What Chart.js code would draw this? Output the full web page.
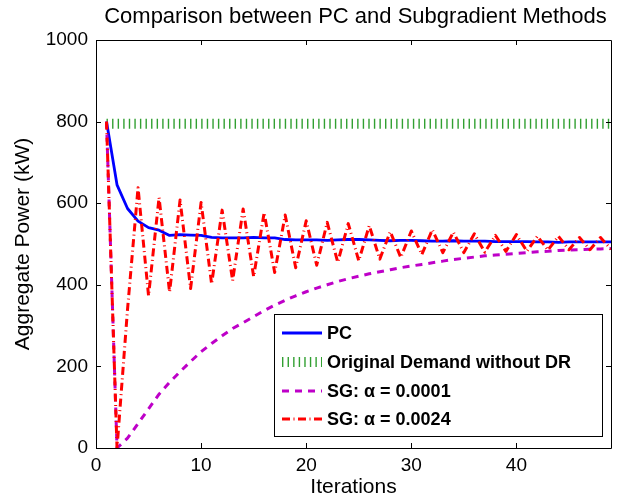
<!DOCTYPE html>
<html><head><meta charset="utf-8">
<script src="https://cdn.jsdelivr.net/npm/chart.js@4.4.0/dist/chart.umd.min.js"></script>
<style>html,body{margin:0;padding:0;background:#fff;}canvas{display:block;}</style>
</head><body>
<canvas id="c" width="621" height="500"></canvas>
<script>
const iterations = [1,2,3,4,5,6,7,8,9,10,11,12,13,14,15,16,17,18,19,20,21,22,23,24,25,26,27,28,29,30,31,32,33,34,35,36,37,38,39,40,41,42,43,44,45,46,47,48,49];
const pcPower = [800,645,587,556,540,534,521,523,522,521,516,515,515,515,516,515,515,511,510,510,510,509,510,511,511,510,509,508,509,509,508,507,507,508,507,507,507,506,506,506,506,505,505,504,505,505,505,505,505];
const originalDemand = [795,795,795,795,795,795,795,795,795,795,795,795,795,795,795,795,795,795,795,795,795,795,795,795,795,795,795,795,795,795,795,795,795,795,795,795,795,795,795,795,795,795,795,795,795,795,795,795,795];
const sgSlowPower = [800,0,24,60,96,132,161,187,212,236,256,275,293,307,322,337,350,362,373,383,392,400,408,415,421,427,432,437,442,446,450,454,458,462,465,468,471,473,475,477,479,481,482,484,485,486,487,488,489];
const sgFastPower = [800,0,340,638,373,614,382,608,391,602,402,583,410,586,420,577,430,571,442,557,448,553,455,550,459,545,463,530,467,532,474,535,479,529,479,525,480,521,482,523,482,519,485,519,486,516,486,516,487];
const xTicks = [0,10,20,30,40];
const yTicks = [0,200,400,600,800,1000];
const seriesNames = ['PC','Original Demand without DR','SG: \u03b1 = 0.0001','SG: \u03b1 = 0.0024'];

const FONT = "'Liberation Sans', Arial, Helvetica, sans-serif";
const toPts = arr => iterations.map((x, i) => ({x: x, y: arr[i]}));

const datasets = [
  {label: seriesNames[0], data: toPts(pcPower), borderColor: 'rgb(0,0,255)', borderWidth: 2.8, borderDash: [], order: 4},
  {label: seriesNames[1], data: toPts(originalDemand), borderColor: 'rgb(50,160,50)', borderWidth: 10, borderDash: [1.4, 4.17], borderCapStyle: 'butt', order: 3},
  {label: seriesNames[2], data: toPts(sgSlowPower), borderColor: 'rgb(190,0,200)', borderWidth: 3, borderDash: [7, 6], borderCapStyle: 'butt', order: 2},
  {label: seriesNames[3], data: toPts(sgFastPower), borderColor: 'rgb(255,0,0)', borderWidth: 3, borderDash: [8, 3.5, 1, 3.5], borderCapStyle: 'butt', order: 1}
];
datasets.forEach(d => { d.pointRadius = 0; d.tension = 0; d.fill = false; d.borderJoinStyle = 'round'; });

const framePlugin = {
  id: 'frame',
  afterDatasetsDraw(chart) {
    const {ctx, chartArea: a, scales} = chart;
    ctx.save();
    ctx.strokeStyle = '#000';
    ctx.lineWidth = 1;
    ctx.beginPath();
    ctx.rect(Math.round(a.left) + 0.5, Math.round(a.top) + 0.5, Math.round(a.right - a.left), Math.round(a.bottom - a.top));
    ctx.stroke();
    const tl = 5;
    ctx.beginPath();
    xTicks.forEach(v => {
      const x = Math.round(scales.x.getPixelForValue(v)) + 0.5;
      ctx.moveTo(x, a.bottom); ctx.lineTo(x, a.bottom - tl);
      ctx.moveTo(x, a.top); ctx.lineTo(x, a.top + tl);
    });
    yTicks.forEach(v => {
      const y = Math.round(scales.y.getPixelForValue(v)) + 0.5;
      ctx.moveTo(a.left, y); ctx.lineTo(a.left + tl, y);
      ctx.moveTo(a.right, y); ctx.lineTo(a.right - tl, y);
    });
    ctx.stroke();
    ctx.restore();
  },
  afterDraw(chart) {
    const {ctx, chartArea: a} = chart;
    ctx.save();
    ctx.fillStyle = '#000';
    ctx.font = '22px ' + FONT;
    ctx.textAlign = 'center';
    ctx.textBaseline = 'middle';
    ctx.fillText('Comparison between PC and Subgradient Methods', (a.left + a.right) / 2 + 2, 17);
    const bx = 274, by = 314, bw = 328, bh = 122;
    ctx.fillStyle = '#fff';
    ctx.fillRect(bx, by, bw, bh);
    ctx.strokeStyle = '#000';
    ctx.lineWidth = 1;
    ctx.strokeRect(bx + 0.5, by + 0.5, bw, bh);
    const rowY = [333, 362, 391, 419];
    ctx.font = 'bold 18px ' + FONT;
    ctx.textAlign = 'left';
    datasets.forEach((d, i) => {
      const y = rowY[i];
      ctx.save();
      ctx.strokeStyle = d.borderColor;
      ctx.lineWidth = d.borderWidth;
      ctx.lineCap = 'butt';
      ctx.setLineDash(d.borderDash);
      ctx.beginPath();
      ctx.moveTo(282, y); ctx.lineTo(322, y);
      ctx.stroke();
      ctx.restore();
      ctx.fillStyle = '#000';
      ctx.fillText(d.label, 327, y + 1);
    });
    ctx.restore();
  }
};

new Chart(document.getElementById('c').getContext('2d'), {
  type: 'line',
  data: {datasets: datasets},
  options: {
    responsive: false,
    animation: false,
    devicePixelRatio: 1,
    layout: {padding: {top: 40, right: 10, left: 0, bottom: 0}},
    plugins: {legend: {display: false}, title: {display: false}, tooltip: {enabled: false}},
    scales: {
      x: {
        type: 'linear', min: 0, max: 49,
        afterBuildTicks: s => { s.ticks = xTicks.map(v => ({value: v})); },
        afterFit: s => { s.height = 52; },
        grid: {display: false, drawTicks: false},
        border: {display: false},
        ticks: {color: '#000', font: {family: FONT, size: 19}, padding: 6, maxRotation: 0, autoSkip: false, callback: v => String(v)},
        title: {display: true, text: 'Iterations', color: '#000', font: {family: FONT, size: 21}, padding: {top: 0, bottom: 0}}
      },
      y: {
        type: 'linear', min: 0, max: 1000,
        afterBuildTicks: s => { s.ticks = yTicks.map(v => ({value: v})); },
        afterFit: s => { s.width = 96; },
        grid: {display: false, drawTicks: false},
        border: {display: false},
        ticks: {color: '#000', font: {family: FONT, size: 19}, padding: 8, autoSkip: false, callback: v => String(v)},
        title: {display: true, text: 'Aggregate Power (kW)', color: '#000', font: {family: FONT, size: 21}, padding: {top: 11, bottom: 0}}
      }
    }
  },
  plugins: [framePlugin]
});
</script>
</body></html>
